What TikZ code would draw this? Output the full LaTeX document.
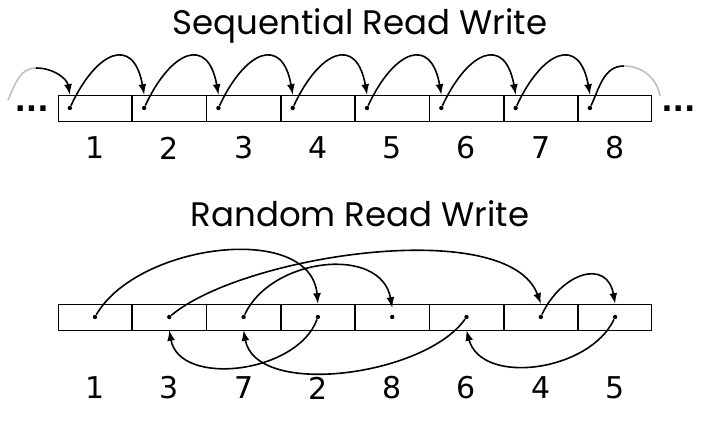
\documentclass[tikz,border=0pt]{standalone}
\usepackage{fontspec}
\setmainfont{DejaVu Sans}
\newfontfamily\titlefont{Poppins}
\usetikzlibrary{arrows,calc,positioning}
\tikzset{%
	cell/.style     = {draw, rectangle, minimum height = 13pt, minimum width = 36.75pt, inner sep=0pt, line width=0.4pt},
	pnt/.style      = {circle, fill, inner sep=0pt, minimum size=2.2pt},
	idx/.style      = {font=\fontsize{15}{15}\selectfont},
	heading/.style  = {font=\titlefont\fontsize{17}{17}\selectfont},
	jump/.style     = {thick,-latex,>=stealth},
	fade/.style     = {thick, black!25},
}
\begin{document}
\begin{tikzpicture}
	\useasboundingbox (0,0) rectangle (360pt,-213.5pt);
	\node [heading] (ts) at (180pt,-13pt) {Sequential Read Write};
	\node [heading] (tr) at (180pt,-107pt) {Random Read Write};

	% sequential row
	\node [cell] (s1) at (47.5pt,-54pt) {};
	\foreach \i [count=\j from 2] in {1,...,7}
		\node [cell] (s\j) [right=0pt of s\i] {};
	\foreach \i in {1,...,8} {
		\node [pnt] (ds\i) at ($(s\i.west)+(6pt,0)$) {};
		\node [idx] at (s\i |- 0,-74pt) {\i};
	}
	\node [idx, anchor=base east] (ldots) at ($(s1.west)+(-1pt,-2pt)$) {\textbf{...}};
	\node [idx, anchor=base west] (rdots) at ($(s8.east)+(1pt,-2pt)$) {\textbf{...}};
	\foreach \i [count=\j from 2] in {1,...,7}
		\draw [jump] (ds\i) to[out=65,in=100,looseness=2.1] (s\j.north -| ds\j);
	\coordinate (lin) at (4pt,-50pt);
	\coordinate (lmid) at (18pt,-34pt);
	\coordinate (rmid) at (312pt,-33pt);
	\coordinate (rout) at (330pt,-48pt);
	\draw [fade] (lin) to[out=65,in=180] (lmid);
	\draw [jump] (lmid) to[out=0,in=100] (s1.north -| ds1);
	\draw [jump,-] (ds8) to[out=65,in=180] (rmid);
	\draw [fade] (rmid) to[out=0,in=100] (rout);

	% random row
	\node [cell] (r1) at (47.5pt,-158.5pt) {};
	\foreach \i [count=\j from 2] in {1,...,7}
		\node [cell] (r\j) [right=0pt of r\i] {};
	\foreach \i/\n in {1/1,2/3,3/7,4/2,5/8,6/6,7/4,8/5} {
		\node [pnt] (dr\i) at (r\i) {};
		\node [idx] at (r\i |- 0,-194pt) {\n};
	}
	\draw [jump] (dr1) to[out=60,in=95,looseness=0.95] (r4.north);
	\draw [jump] (dr2) to[out=40,in=110,looseness=0.65] (r7.north);
	\draw [jump] (dr3) to[out=65,in=100,looseness=1.1] ($(r5.north)+(0,-2pt)$);
	\draw [jump] (dr7) to[out=65,in=100,looseness=1.6] (r8.north);
	\draw [jump] (dr4) to[out=-110,in=-80,looseness=1.0] (r2.south);
	\draw [jump] (dr6) to[out=-125,in=-80,looseness=0.8] (r3.south);
	\draw [jump] (dr8) to[out=-115,in=-75,looseness=1.0] (r6.south);
\end{tikzpicture}
\end{document}
